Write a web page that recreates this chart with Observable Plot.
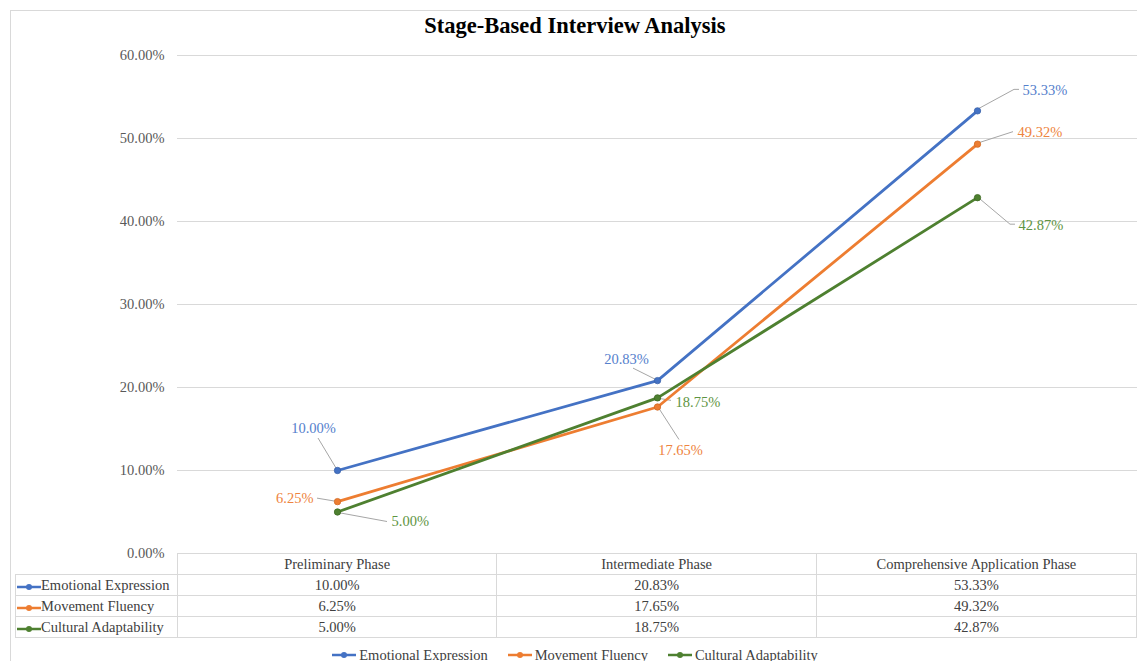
<!DOCTYPE html>
<html>
<head>
<meta charset="utf-8">
<script src="https://cdn.jsdelivr.net/npm/d3@7"></script>
<script src="https://cdn.jsdelivr.net/npm/@observablehq/plot@0.6"></script>
<style>
  html, body { margin: 0; padding: 0; background: #fff; }
  body { width: 1137px; height: 661px; overflow: hidden; position: relative; font-family: "Liberation Serif", "Times New Roman", serif; }
  #frame { position: absolute; left: 10px; top: 10px; width: 1140px; height: 700px; border: 1.5px solid #d9d9d9; box-sizing: border-box; }
  #title { position: absolute; left: 10px; width: 1130px; top: 13px; text-align: center; font-weight: bold; font-size: 22.5px; color: #000; font-family: "Liberation Serif", serif; }
  #chart { position: absolute; left: 0; top: 0; }
  #tbl { position: absolute; left: 15px; top: 553px; border-collapse: collapse; table-layout: fixed; font-size: 14.5px; color: #404040; font-family: "Liberation Serif", serif; }
  #tbl td { border: 1px solid #d9d9d9; height: 20px; padding: 0; text-align: center; white-space: nowrap; line-height: 20px; }
  #tbl td.blank { border: none; border-bottom: 1px solid #d9d9d9; }
  #tbl td.lab { text-align: left; padding-left: 1px; }
  #legend { position: absolute; left: 10px; width: 1130px; top: 645px; display: flex; justify-content: center; gap: 20px; font-size: 14.5px; color: #404040; line-height: 20px; font-family: "Liberation Serif", serif; }
  .item { display: flex; align-items: center; gap: 3px; }
  svg.key { display: inline-block; vertical-align: middle; }
</style>
</head>
<body>
<div id="frame"></div>
<div id="chart"></div>
<div id="title">Stage-Based Interview Analysis</div>
<table id="tbl"></table>
<div id="legend"></div>
<script>
// ---- data ----
const phases = ["Preliminary Phase", "Intermediate Phase", "Comprehensive Application Phase"];
const seriesNames = ["Emotional Expression", "Movement Fluency", "Cultural Adaptability"];
const emotionalExpression = [0.1000, 0.2083, 0.5333];
const movementFluency = [0.0625, 0.1765, 0.4932];
const culturalAdaptability = [0.0500, 0.1875, 0.4287];
const yTicks = [0, 0.1, 0.2, 0.3, 0.4, 0.5, 0.6];

// ---- styles ----
const lineColors = ["#4472C4", "#ED7D31", "#4E8030"];
const dotStroke = ["#3A62AA", "#D06A25", "#3C6A22"];
const labelColors = ["#5580CC", "#EE8440", "#5E9442"];
const fmt = v => (v * 100).toFixed(2) + "%";

const values = [emotionalExpression, movementFluency, culturalAdaptability];
const rows = [];
seriesNames.forEach((s, i) => phases.forEach((p, j) => rows.push({series: s, phase: p, value: values[i][j], si: i, pj: j})));

// label placement (pixel offsets from the data point) and leader polylines
const labelPlacement = [
  // Emotional Expression
  [{dx: -24, dy: -42, anchor: "middle", lead: [[-19, -32], [-1, -2]]},
   {dx: -31, dy: -21, anchor: "middle", lead: [[-24, -12], [-2, -1]]},
   {dx: 45, dy: -21, anchor: "start", lead: [[2, -2], [37, -21], [42, -21]]}],
  // Movement Fluency
  [{dx: -24, dy: -3, anchor: "end", lead: [[-20, -3], [-2, 0]]},
   {dx: 23, dy: 43, anchor: "middle", lead: [[2, 2], [22, 33]]},
   {dx: 40, dy: -12, anchor: "start", lead: [[2, -1], [36, -12]]}],
  // Cultural Adaptability
  [{dx: 54, dy: 9, anchor: "start", lead: [[1, 1], [50, 10]]},
   {dx: 18, dy: 4, anchor: "start", lead: [[2, 1], [14, 3]]},
   {dx: 41, dy: 28, anchor: "start", lead: [[2, 1], [33, 27], [38, 27]]}]
];

const labelMarks = rows.map(r => {
  const pl = labelPlacement[r.si][r.pj];
  return Plot.text([r], {x: "phase", y: "value", text: d => fmt(d.value), dx: pl.dx, dy: pl.dy,
    textAnchor: pl.anchor, fill: labelColors[r.si], fontSize: 14.5});
});

function leaders(index, scales) {
  const g = d3.create("svg:g").attr("fill", "none").attr("stroke", "#a6a6a6").attr("stroke-width", 1);
  rows.forEach(r => {
    const px = scales.x(r.phase), py = scales.y(r.value);
    const pts = labelPlacement[r.si][r.pj].lead.map(([a, b]) => [px + a, py + b]);
    g.append("path").attr("d", d3.line()(pts));
  });
  return g.node();
}

const chart = Plot.plot({
  width: 1137,
  height: 560,
  marginTop: 55,
  marginBottom: 7,
  marginLeft: 177,
  marginRight: 0,
  style: {fontFamily: "'Liberation Serif', serif", fontSize: "14.5px", color: "#595959", background: "transparent", overflow: "visible"},
  x: {type: "point", domain: phases, padding: 0.5, axis: null},
  y: {domain: [0, 0.6], axis: null},
  color: {domain: seriesNames, range: lineColors},
  marks: [
    Plot.gridY(yTicks.slice(1), {stroke: "#d9d9d9", strokeOpacity: 1, strokeWidth: 1}),
    Plot.axisY(yTicks, {tickSize: 0, tickPadding: 13, tickFormat: fmt, fill: "#595959", fontSize: 14.5, label: null}),
    leaders,
    Plot.line(rows, {x: "phase", y: "value", z: "series", stroke: "series", strokeWidth: 2.8}),
    ...seriesNames.map((s, i) => Plot.dot(rows.filter(r => r.si === i), {x: "phase", y: "value", fill: lineColors[i], r: 3.2, stroke: dotStroke[i], strokeWidth: 0.8})),
    ...labelMarks
  ]
});
document.getElementById("chart").appendChild(chart);

// ---- data table ----
function keySvg(color) {
  return `<svg class="key" width="24" height="8"><line x1="0" x2="24" y1="4" y2="4" stroke="${color}" stroke-width="2.5"/><circle cx="12" cy="4" r="3" fill="${color}"/></svg>`;
}
const tbl = document.getElementById("tbl");
let html = `<colgroup><col style="width:162px"><col style="width:321px"><col style="width:321px"><col style="width:321px"></colgroup>`;
html += `<tr><td class="blank"></td>${phases.map(p => `<td>${p}</td>`).join("")}</tr>`;
seriesNames.forEach((s, i) => {
  html += `<tr><td class="lab">${keySvg(lineColors[i])}${s}</td>${values[i].map(v => `<td>${fmt(v)}</td>`).join("")}</tr>`;
});
tbl.innerHTML = html;

// ---- legend ----
document.getElementById("legend").innerHTML = seriesNames.map((s, i) =>
  `<span class="item">${keySvg(lineColors[i])}<span>${s}</span></span>`).join("");
</script>
</body>
</html>
